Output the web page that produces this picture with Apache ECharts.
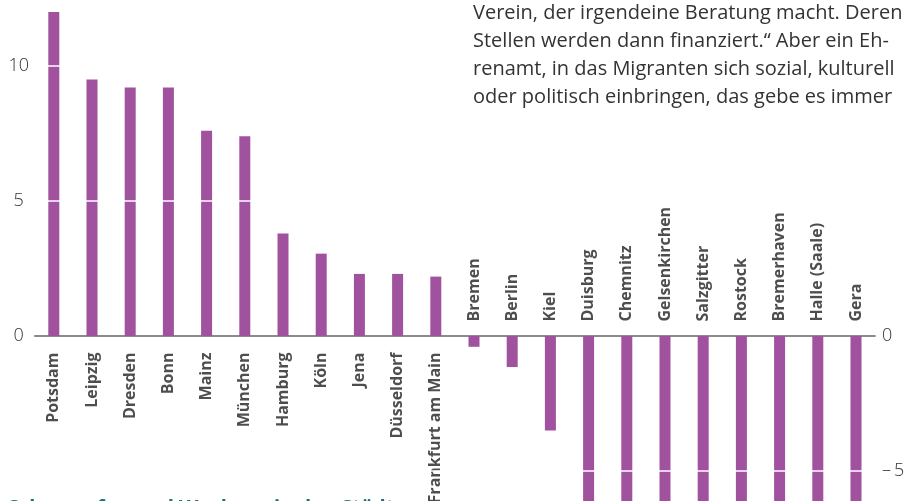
<!DOCTYPE html>
<html>
<head>
<meta charset="utf-8">
<script src="https://cdn.jsdelivr.net/npm/echarts@6/dist/echarts.min.js"></script>
<style>
  html, body { margin: 0; padding: 0; background: #fff; }
  #chart { width: 904px; height: 501px; }
</style>
</head>
<body>
<div id="chart"></div>
<script>
// Cities, ordered from strongest growth to strongest decline
const cities = [
  'Potsdam', 'Leipzig', 'Dresden', 'Bonn', 'Mainz', 'München', 'Hamburg',
  'Köln', 'Jena', 'Düsseldorf', 'Frankfurt am Main', 'Bremen', 'Berlin',
  'Kiel', 'Duisburg', 'Chemnitz', 'Gelsenkirchen', 'Salzgitter', 'Rostock',
  'Bremerhaven', 'Halle (Saale)', 'Gera'
];
// Change per city
const values = [
  12.0, 9.5, 9.2, 9.2, 7.6, 7.4, 3.8,
  3.05, 2.3, 2.3, 2.2, -0.4, -1.15,
  -3.5, -6.8, -7.3, -7.0, -7.6, -7.9,
  -8.2, -8.6, -9.4
];
// Tick values shown on the left and on the right
const leftTicks = [0, 5, 10];
const rightTicks = [0, -5];
// Values crossed by the white guide lines
const guideValues = [5, 10, -5];
// Running body text above the chart
const bodyLines = [
  'Verein, der irgendeine Beratung macht. Deren',
  'Stellen werden dann finanziert.“ Aber ein Eh-',
  'renamt, in das Migranten sich sozial, kulturell',
  'oder politisch einbringen, das gebe es immer'
];
const nextHeading = 'Schrumpfen und Wachsen in den Städten';

const purple = '#a1529f';

// Visible value window of the plot (top edge to bottom edge of the canvas)
const yMax = 336 / 27;
const yMin = -165 / 27;

const chart = echarts.init(document.getElementById('chart'), null, { renderer: 'canvas' });

const valAxis = (position, ticks, fmt) => ({
  type: 'value',
  position: position,
  min: yMin,
  max: yMax,
  splitLine: { show: false },
  axisLine: { show: false },
  axisTick: { show: false },
  axisLabel: {
    customValues: ticks,
    fontFamily: 'Open Sans',
    fontWeight: 300,
    fontSize: 18,
    color: '#333',
    align: position === 'left' ? 'center' : 'left',
    margin: position === 'left' ? 16 : 7,
    formatter: v => fmt(v)
  }
});

// City names sit on the zero line, on the side facing away from the bar
const nameLabels = cities.map((name, i) => {
  const up = values[i] < 0;
  return {
    value: [i, 0],
    label: {
      position: up ? 'top' : 'bottom',
      align: up ? 'left' : 'right',
      distance: up ? 14 : 16
    }
  };
});

chart.setOption({
  animation: false,
  backgroundColor: '#fff',
  grid: {
    left: 34.7, right: 28.9, top: 0, bottom: 0,
    containLabel: false,
    outerBoundsMode: 'none'
  },
  xAxis: {
    type: 'category',
    data: cities,
    axisLine: { onZero: true, lineStyle: { color: '#666', width: 1.5 } },
    axisTick: { show: false },
    axisLabel: { show: false }
  },
  yAxis: [
    valAxis('left', leftTicks, v => String(v)),
    valAxis('right', rightTicks, v => (v < 0 ? '\u2013\u2009' + Math.abs(v) : String(v)))
  ],
  series: [{
    type: 'bar',
    data: values,
    barWidth: 11,
    itemStyle: { color: purple },
    markLine: {
      silent: true,
      symbol: 'none',
      label: { show: false },
      lineStyle: { color: '#fff', width: 1.5, type: 'solid' },
      data: guideValues.map(v => ({ yAxis: v }))
    }
  }, {
    type: 'scatter',
    data: nameLabels,
    symbolSize: 1,
    itemStyle: { color: 'rgba(0,0,0,0)' },
    silent: true,
    label: {
      show: true,
      rotate: 90,
      verticalAlign: 'middle',
      formatter: p => cities[p.dataIndex],
      fontFamily: 'Open Sans',
      fontWeight: 700,
      fontSize: 16,
      color: '#222'
    }
  }],
  graphic: [
    ...bodyLines.map((t, i) => ({
      type: 'text',
      z: 100,
      x: 473,
      y: 13 + i * 28,
      style: {
        text: t,
        fontFamily: 'Open Sans',
        fontSize: 20,
        fill: '#333',
        verticalAlign: 'middle'
      }
    })),
    {
      type: 'text',
      z: 100,
      x: 8,
      y: 498.5,
      style: {
        text: nextHeading,
        fontFamily: 'Open Sans',
        fontWeight: 700,
        fontSize: 20,
        fill: '#1f6f7c',
        verticalAlign: 'top'
      }
    }
  ]
});
</script>
</body>
</html>
